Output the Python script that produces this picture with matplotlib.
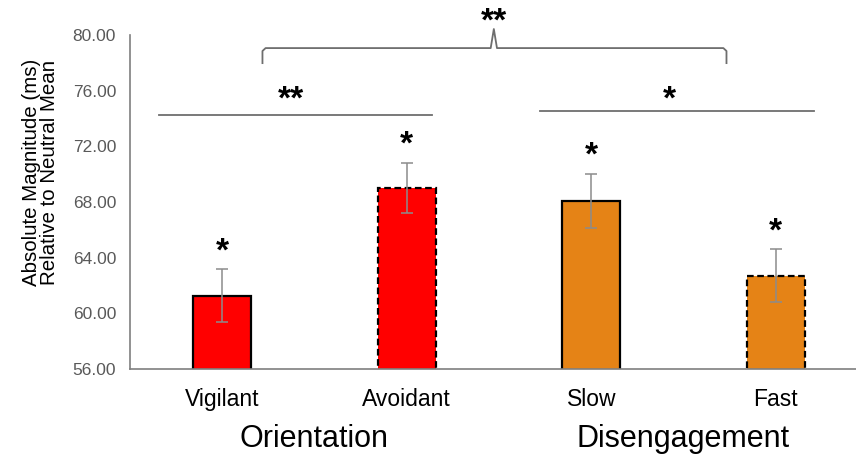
import matplotlib.pyplot as plt

plt.rcParams['font.family'] = ['Liberation Sans', 'DejaVu Sans']

# Data
categories = ['Vigilant', 'Avoidant', 'Slow', 'Fast']
means = [61.27, 69.02, 68.09, 62.70]
errors = [1.90, 1.80, 1.93, 1.90]
groups = ['Orientation', 'Disengagement']
bar_colors = ['#FF0000', '#FF0000', '#E58316', '#E58316']
dashed = [False, True, False, True]

fig = plt.figure(figsize=(8.56, 4.55), dpi=100)
ax = fig.add_axes([130 / 856, 1 - 369 / 455, 726 / 856, 334 / 455])

x = list(range(len(categories)))
for i in x:
    ax.bar(i, means[i], width=0.314, bottom=0, color=bar_colors[i],
           edgecolor='black', linewidth=1.6,
           linestyle=(0, (3, 1.6)) if dashed[i] else '-', zorder=2)
ax.errorbar(x, means, yerr=errors, fmt='none', ecolor='#8c8c8c',
            elinewidth=1.1, capsize=4, capthick=1.1, zorder=3)

# stars over each bar
for i in x:
    ax.text(i, means[i] + errors[i] + 1.25, '*', ha='center', va='center',
            fontsize=24, fontweight='bold', zorder=4)

ax.set_ylim(56, 80)
ax.set_xlim(-0.5, 3.435)
ax.set_yticks([56, 60, 64, 68, 72, 76, 80])
ax.set_yticklabels(['%.2f' % v for v in [56, 60, 64, 68, 72, 76, 80]],
                   fontsize=12.5, color='#595959')
ax.set_xticks(x)
ax.set_xticklabels(categories, fontsize=16.5)
ax.tick_params(axis='both', length=0)
ax.tick_params(axis='y', pad=10)
ax.tick_params(axis='x', pad=14)
for s in ['top', 'right']:
    ax.spines[s].set_visible(False)
for s in ['left', 'bottom']:
    ax.spines[s].set_color('#7f7f7f')
    ax.spines[s].set_linewidth(1.2)

ax.set_ylabel('Absolute Magnitude (ms)\nRelative to Neutral Mean',
              fontsize=14.8, linespacing=0.92)
ax.yaxis.set_label_coords(-0.098, 0.59)

# group labels
ax.text(0.5, 51.0, groups[0], ha='center', va='center', fontsize=22)
ax.text(2.5, 51.0, groups[1], ha='center', va='center', fontsize=22)

# significance lines
lc = '#6e6e6e'
ax.plot([-0.344, 1.136], [74.25, 74.25], color=lc, lw=1.3, clip_on=False)
ax.plot([1.721, 3.206], [74.56, 74.56], color=lc, lw=1.3, clip_on=False)
ax.text(0.37, 75.3, '**', ha='center', va='center', fontsize=24,
        fontweight='bold')
ax.text(2.425, 75.3, '*', ha='center', va='center', fontsize=24,
        fontweight='bold')

# brace across the two groups
bx = [0.218, 0.218, 0.235, 1.455, 1.472, 1.489, 2.716, 2.733, 2.733]
by = [77.98, 78.85, 79.06, 79.06, 80.43, 79.06, 79.06, 78.85, 77.98]
ax.plot(bx, by, color=lc, lw=1.3, clip_on=False)
ax.text(1.472, 80.9, '**', ha='center', va='center', fontsize=24,
        fontweight='bold')

plt.savefig('out.png', dpi=100)
